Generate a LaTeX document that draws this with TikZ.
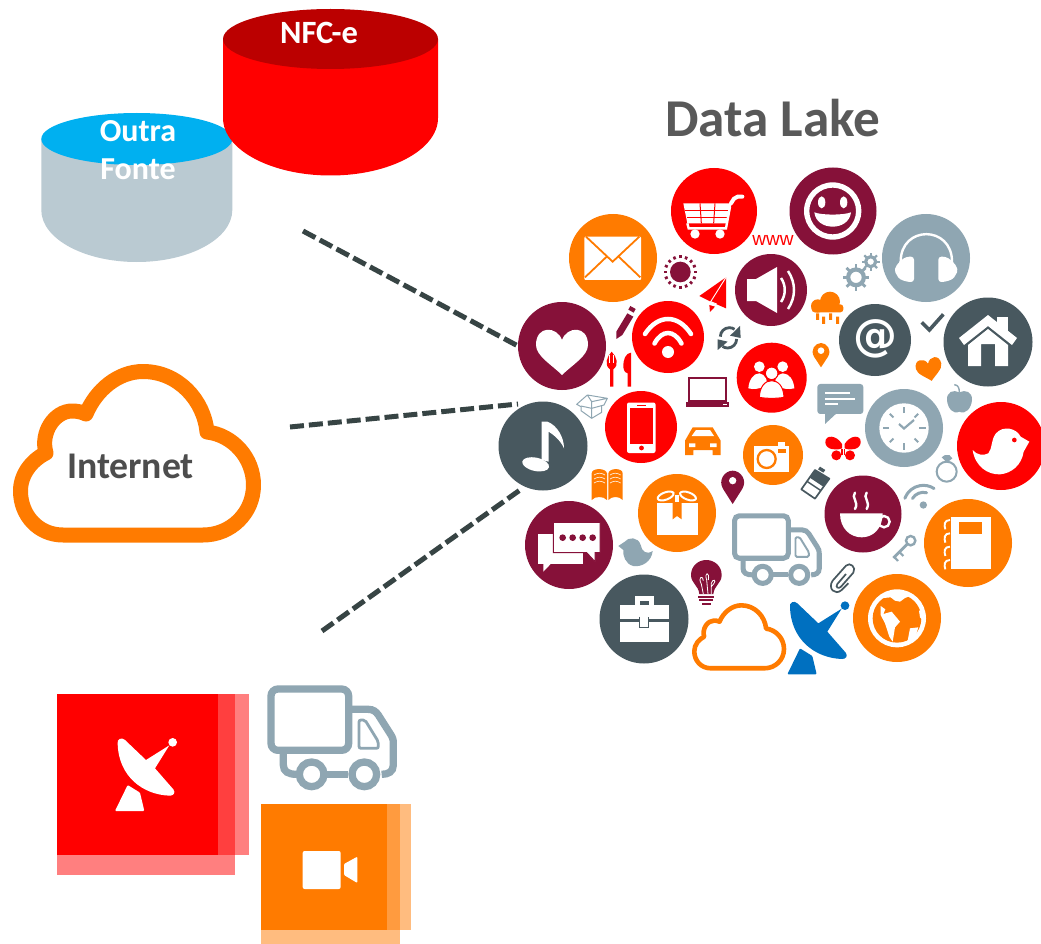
\documentclass[tikz,border=0pt]{standalone}
\usepackage{fontspec}
\usetikzlibrary{calc}
\setmainfont{Carlito}
\newfontfamily\arialish{Liberation Sans}
\newfontfamily\heavyfont{DejaVu Sans}
\definecolor{maroonc}{HTML}{861139}
\definecolor{orangec}{HTML}{FF7B00}
\definecolor{redc}{HTML}{FF0000}
\definecolor{slatec}{HTML}{48585F}
\definecolor{grayc}{HTML}{8FA6B2}
\definecolor{dashc}{HTML}{374444}
\definecolor{cylgray}{HTML}{BACAD2}
\definecolor{cylblue}{HTML}{00B0F0}
\definecolor{cyldark}{HTML}{BB0000}
\definecolor{txtgray}{HTML}{595959}
\definecolor{inetgray}{HTML}{4D4D4D}
\definecolor{dishblue}{HTML}{0070C0}
\tikzset{
  disc/.style={circle,inner sep=0pt,outer sep=0pt,minimum size=#1},
  feed/.style={draw=dashc,line width=5pt,dash pattern=on 14pt off 5pt},
  z1/.style={shift={(500,160)},scale=.33333},
  z2/.style={shift={(770,160)},scale=.33333},
  z3/.style={shift={(490,420)},scale=.33333},
  z4/.style={shift={(740,420)},scale=.33333},
  z5/.style={shift={(40,680)},scale=.33333},
  z9/.style={shift={(735,340)},scale=.33333},
  z10/.style={shift={(850,570)},scale=.33333},
}
\newcommand\heartshape{(0,-6) .. controls (-5,-20) and (-26,-21) .. (-26,-1) .. controls (-26,10) and (-10,19) .. (0,29) .. controls (10,19) and (26,10) .. (26,-1) .. controls (26,-21) and (5,-20) .. (0,-6) -- cycle}
\newcommand\cloudshape{(63,535) .. controls (38,535) and (20.5,515) .. (20.5,491) .. controls (20.5,474) and (32,460) .. (46,453) .. controls (40,432) and (55,411) .. (72,411) .. controls (77,411) and (82,412) .. (86,414) .. controls (96,390) and (118,371.5) .. (143,371.5) .. controls (178,371.5) and (204,400) .. (207,432) .. controls (233,435) and (253.5,458) .. (253.5,485) .. controls (253.5,513) and (231,535) .. (203,535) -- cycle}
\newcommand\dishsym[1]{%
  \fill[#1] (233,190) .. controls (230,178) and (245,170) .. (255,180) -- (318,240) -- (388,196) -- (345,265) -- (400,328) .. controls (408,338) and (400,347) .. (390,347) .. controls (310,345) and (235,290) .. (233,190) -- cycle;
  \fill[#1] (398,187) circle[radius=13];
  \fill[#1,rounded corners=1pt] (263,315) -- (300,338) -- (313,393) -- (225,393) -- cycle;
}
% truck in the coordinates of the big truck's crop; #1 = size factor
\newcommand\trucksym[1]{%
  \draw[grayc,line width=#1*7.3pt,rounded corners=#1*7pt] (693,27) rectangle (926,211);
  \draw[grayc,line width=#1*7.3pt] (926,88) -- (985,88) .. controls (1000,88) and (1008,95) .. (1015,105) -- (1050,160) .. controls (1058,172) and (1060,178) .. (1060,190) -- (1060,255) .. controls (1060,275) and (1045,283) .. (1025,283);
  \draw[grayc,line width=#1*7.3pt] (860,283) -- (925,283);
  \draw[grayc,line width=#1*7.3pt] (730,215) -- (730,255) .. controls (730,275) and (745,283) .. (770,283);
  \draw[grayc,line width=#1*7.3pt,fill=white] (815,283) circle[radius=37];
  \draw[grayc,line width=#1*7.3pt,fill=white] (973,283) circle[radius=37];
  \draw[grayc,line width=#1*2.8pt,rounded corners=#1*2pt] (957,120) -- (975,120) -- (1015,185) -- (1015,205) -- (957,205) -- cycle;
}
\begin{document}
\begin{tikzpicture}[x=1pt,y=-1pt]
\clip (0,0) rectangle (1041,944);
\fill[white] (0,0) rectangle (1041,944);

% ---------- cylinders
\fill[cylgray] (41.3,139) -- (41.3,210) arc[start angle=180,end angle=0,x radius=95.5,y radius=52] -- (232.3,139) -- cycle;
\fill[cylblue] (136.8,139) ellipse[x radius=95.5,y radius=26];
\fill[redc] (223,39) -- (223,118) arc[start angle=180,end angle=0,x radius=107.5,y radius=57.5] -- (438,39) -- cycle;
\fill[cyldark] (330.5,39) ellipse[x radius=107.5,y radius=30];
\node[text=white,font=\bfseries\fontsize{32.5}{34}\selectfont,inner sep=0pt] (nfc) at (319,33) {NFC-e};
\node[text=white,font=\bfseries\fontsize{32}{34}\selectfont,inner sep=0pt] (outra) at (138,131.5) {Outra};
\node[text=white,font=\bfseries\fontsize{32}{34}\selectfont,inner sep=0pt] (fonte) at (138,169.5) {Fonte};

% ---------- cloud
\draw[orangec,line width=15pt,line join=round] \cloudshape;
\node[text=inetgray,font=\bfseries\fontsize{37.7}{40}\selectfont,inner sep=0pt] (internet) at (130.5,466) {Internet};

% ---------- title
\node[text=txtgray,font=\bfseries\fontsize{53.2}{56}\selectfont,inner sep=0pt] (title) at (773,118) {Data Lake};

% ---------- connectors
\coordinate (f1a) at (303,231); \coordinate (f1b) at (518,346);
\coordinate (f2a) at (290,427); \coordinate (f2b) at (518,404);
\coordinate (f3a) at (322,631); \coordinate (f3b) at (520,490);
\draw[feed] (f1a) -- (f1b);
\draw[feed] (f2a) -- (f2b);
\draw[feed] (f3a) -- (f3b);

% ---------- squares
\fill[redc,opacity=.5] (57,694) rectangle (235,875);
\fill[redc,opacity=.5] (57,694) rectangle (249,855);
\fill[redc] (57,694) rectangle (218,855);
\begin{scope}[z5] \dishsym{white} \end{scope}
\fill[orangec,opacity=.5] (261,804) rectangle (400,944);
\fill[orangec,opacity=.5] (261,804) rectangle (411,930);
\fill[orangec] (261,804) rectangle (387,930);
\begin{scope}[z5]
  \fill[white,rounded corners=2pt] (788,513) rectangle (902,627);
  \fill[white,rounded corners=1pt] (912,552) -- (952,530) -- (952,609) -- (912,585) -- cycle;
\end{scope}
\begin{scope}[z5] \trucksym{1} \end{scope}

% ---------- discs
\node[disc=86pt,fill=redc] (cart) at (714,211) {};
\node[disc=87pt,fill=maroonc] (smile) at (833,211) {};
\node[disc=88pt,fill=orangec] (mail) at (613,258) {};
\node[disc=88pt,fill=grayc] (phones) at (926,258) {};
\node[disc=72pt,fill=maroonc] (speaker) at (771,290) {};
\node[disc=88pt,fill=maroonc] (heart) at (562,346) {};
\node[disc=72pt,fill=redc] (wifi) at (668,337) {};
\node[disc=72pt,fill=slatec] (atdisc) at (875,340) {};
\node[disc=89pt,fill=slatec] (home) at (988,342) {};
\node[disc=70pt,fill=redc] (people) at (771.7,377.7) {};
\node[disc=89pt,fill=slatec] (note) at (543,446) {};
\node[disc=72pt,fill=redc] (phone) at (641,427) {};
\node[disc=78pt,fill=grayc] (clock) at (904,428) {};
\node[disc=88pt,fill=redc] (bird) at (1001,446) {};
\node[disc=60pt,fill=orangec] (camera) at (773,455) {};
\node[disc=78pt,fill=orangec] (gift) at (677,513) {};
\node[disc=77pt,fill=maroonc] (cup) at (863,514) {};
\node[disc=88pt,fill=orangec] (notebook) at (968,543) {};
\node[disc=88pt,fill=maroonc] (chat) at (569,545) {};
\node[disc=89pt,fill=slatec] (case) at (644,619) {};
\node[disc=88pt,fill=orangec] (globe) at (897,618) {};

% ---------- cart
\begin{scope}[z1]
  \fill[white] (550,130) -- (695,130) -- (682,190) -- (562,190) -- cycle;
  \draw[redc,line width=1pt] (556,152) -- (690,152) (560,172) -- (686,172);
  \draw[redc,line width=1pt] (600,130) -- (604,190) (645,130) -- (641,190);
  \draw[white,line width=2.4pt] (562,190) -- (566,205) -- (678,205) -- (690,140);
  \draw[white,line width=4pt,line cap=round] (693,130) -- (702,116) .. controls (708,108) and (718,110) .. (727,110);
  \fill[white] (585,222) circle[radius=14] (660,222) circle[radius=14];
\end{scope}
% ---------- smile
\begin{scope}[z2]
  \fill[white,even odd rule] (188,153) circle[radius=86] (188,153) circle[radius=70];
  \fill[white] (155,127) ellipse[x radius=11,y radius=18] (221,127) ellipse[x radius=11,y radius=18];
  \fill[white] (133,157) .. controls (155,166) and (221,166) .. (243,157) .. controls (240,185) and (215,200) .. (188,200) .. controls (161,200) and (136,185) .. (133,157) -- cycle;
\end{scope}
% ---------- mail
\begin{scope}[z1]
  \fill[white,rounded corners=1pt] (253,230) rectangle (423,360);
  \draw[orangec,line width=1.8pt] (258,230) -- (338,305) -- (418,230);
  \draw[orangec,line width=1.8pt] (255,352) -- (320,290) (421,352) -- (356,290);
\end{scope}
% ---------- headphones
\begin{scope}[z2]
  \draw[white,line width=2.4pt] (392,345) -- (392,305) .. controls (392,195) and (546,195) .. (546,305) -- (546,345);
  \fill[white,rounded corners=3pt] (432,290) -- (410,290) .. controls (385,305) and (370,325) .. (380,345) .. controls (390,360) and (410,366) .. (432,366) -- cycle;
  \fill[white,rounded corners=3pt] (505,290) -- (527,290) .. controls (552,305) and (567,325) .. (557,345) .. controls (547,360) and (527,366) .. (505,366) -- cycle;
\end{scope}
% ---------- speaker
\begin{scope}[shift={(771,290)}]
  \fill[white] (-24,-11) -- (-15,-11) -- (6,-23) -- (6,23) -- (-15,11) -- (-24,11) -- cycle;
  \draw[white,line width=2.5pt] (10,-12) .. controls (15,-5) and (15,5) .. (10,12);
  \draw[white,line width=2.5pt] (17,-19) .. controls (25,-7) and (25,7) .. (17,19);
\end{scope}
% ---------- heart
\begin{scope}[shift={(562,346)}] \fill[white] \heartshape; \end{scope}
% ---------- wifi
\begin{scope}[shift={(668,337)}]
  \fill[white] (0,15) circle[radius=6];
  \draw[white,line width=4.5pt,line cap=round] (-23,-3) .. controls (-10,-23) and (10,-23) .. (23,-3);
  \draw[white,line width=4.5pt,line cap=round] (-13.5,6.5) .. controls (-6,-7.5) and (6,-7.5) .. (13.5,6.5);
\end{scope}
% ---------- at sign
\node[text=white,font=\heavyfont\bfseries\fontsize{44}{46}\selectfont,inner sep=0pt] (atsign) at (875,339) {@};
% ---------- home
\begin{scope}[shift={(988,342)}]
  \fill[white] (9,-25) rectangle (20,-10);
  \fill[white] (0,-27) -- (29,-4) -- (24,3) -- (0,-16) -- (-24,3) -- (-29,-4) -- cycle;
  \fill[white] (0,-13) -- (20,3) -- (20,24) -- (7,24) -- (7,2) -- (-7,2) -- (-7,24) -- (-20,24) -- (-20,3) -- cycle;
\end{scope}
% ---------- people
\begin{scope}[z9]
  \fill[white] (73,80) circle[radius=16] (143,80) circle[radius=16];
  \fill[white] (40,145) .. controls (42,120) and (55,100) .. (73,100) .. controls (90,100) and (105,130) .. (90,140) .. controls (75,145) and (55,150) .. (40,145) -- cycle;
  \fill[white] (178,145) .. controls (176,120) and (163,100) .. (143,100) .. controls (126,100) and (111,130) .. (126,140) .. controls (141,145) and (161,150) .. (178,145) -- cycle;
  \draw[white,fill=white,line width=1pt] (110,100) circle[radius=17];
  \draw[redc,line width=1pt] (110,100) circle[radius=19];
  \draw[redc,fill=white,line width=1pt] (73,172) .. controls (74,140) and (90,122) .. (110,122) .. controls (130,122) and (146,140) .. (147,172) .. controls (125,176) and (95,176) .. (73,172) -- cycle;
\end{scope}
% ---------- note
\begin{scope}[z3]
  \fill[white,rotate around={-12:(137,133)}] (137,133) ellipse[x radius=41,y radius=20];
  \fill[white] (155,120) -- (155,5) -- (172,5) .. controls (200,15) and (222,50) .. (222,85) .. controls (212,62) and (192,45) .. (176,35) -- (176,125) -- cycle;
\end{scope}
% ---------- phone
\begin{scope}[shift={(641,427)}]
  \fill[white,rounded corners=2pt] (-14,-24.5) rectangle (14.5,26);
  \fill[redc] (-11,-19) rectangle (12,17);
  \fill[redc] (0.5,21) circle[radius=2.4];
  \fill[redc] (-4,-22.5) rectangle (5,-21);
\end{scope}
% ---------- clock
\begin{scope}[shift={(904,428)}]
  \fill[white] (0,0) circle[radius=24.7];
  \foreach \a in {0,90,180,270}
    \draw[grayc,line width=2pt] (\a:15) -- (\a:21.5);
  \foreach \a in {45,135,225,315}
    \draw[grayc,line width=2pt] (\a:15) -- (\a:20);
  \draw[grayc,line width=2.2pt] (-5,-4) -- (0,0.5) -- (10,-8);
\end{scope}
% ---------- red bird
\begin{scope}[z4]
  \fill[white] (698,90) .. controls (705,140) and (745,165) .. (780,163) .. controls (815,160) and (845,135) .. (851,95) -- (868,65) -- (842,50) .. controls (830,25) and (790,15) .. (768,40) .. controls (752,60) and (758,85) .. (745,100) .. controls (730,108) and (710,105) .. (698,90) -- cycle;
  \fill[redc] (823,60) circle[radius=7];
\end{scope}
% ---------- camera
\begin{scope}[z4]
  \fill[white] (42,78) rectangle (148,155);
  \fill[white] (115,67) rectangle (135,78);
  \fill[orangec] (115,88) rectangle (138,100);
  \draw[orangec,line width=2.3pt] (80,117) circle[radius=27];
\end{scope}
% ---------- gift
\begin{scope}[z3]
  \fill[white] (500,248) rectangle (623,345);
  \fill[orangec] (548,248) -- (575,248) -- (575,298) -- (561,288) -- (548,298) -- cycle;
  \draw[white,line width=2pt,rotate around={20:(527,228)}] (527,228) ellipse[x radius=25,y radius=11];
  \draw[white,line width=2pt,rotate around={-20:(594,228)}] (594,228) ellipse[x radius=25,y radius=11];
  \fill[white] (555,226) rectangle (568,245);
\end{scope}
% ---------- cup
\begin{scope}[z4]
  \draw[white,line width=2.4pt] (432,305) circle[radius=17];
  \fill[white] (300,280) -- (428,280) .. controls (428,325) and (400,352) .. (365,352) .. controls (330,352) and (300,325) .. (300,280) -- cycle;
  \draw[white,line width=2.4pt,line cap=round] (345,218) .. controls (332,232) and (358,245) .. (345,267);
  \draw[white,line width=2.4pt,line cap=round] (380,218) .. controls (367,232) and (393,245) .. (380,267);
\end{scope}
% ---------- notebook
\begin{scope}[z4]
  \fill[white] (632,290) rectangle (752,448);
  \fill[orangec] (657,307) rectangle (726,342);
  \foreach \yy in {300,340,380,420}
    \draw[white,line width=1.9pt] (630,\yy) .. controls (612,\yy) and (612,\yy+15) .. (616,\yy+28);
\end{scope}
% ---------- chat
\begin{scope}[z3]
  \fill[white] (143,342) rectangle (278,432);
  \fill[white] (160,432) -- (160,455) -- (182,432) -- cycle;
  \draw[maroonc,fill=white,line width=1pt] (190,307) -- (330,307) -- (330,398) -- (315,398) -- (315,425) -- (290,398) -- (190,398) -- cycle;
  \fill[maroonc] (218,353) circle[radius=10] (248,353) circle[radius=10] (278,353) circle[radius=10] (308,353) circle[radius=10];
\end{scope}
% ---------- briefcase
\begin{scope}[z3]
  \fill[white] (435,527) rectangle (492,560);
  \fill[slatec] (450,543) rectangle (478,555);
  \fill[white] (389,555) rectangle (537,596);
  \fill[white] (389,605) rectangle (537,665);
  \draw[slatec,fill=white,line width=1pt] (449,590) -- (449,622) -- (476,622) -- (476,590);
\end{scope}
% ---------- globe
\begin{scope}[z10]
  \fill[white] (141,145) circle[radius=87];
  \fill[orangec] (141,145) circle[radius=73];
  \fill[white] (90,85) -- (122,82) -- (135,92) -- (150,95) -- (165,84) -- (190,74) -- (140,68) -- (105,72) -- cycle;
  \fill[white] (92,108) -- (106,118) -- (100,132) -- (125,125) -- (150,155) -- (135,172) -- (128,215) -- (118,200) -- (105,160) -- (92,135) -- cycle;
  \fill[white] (207,122) -- (216,120) -- (222,155) -- (210,142) -- cycle;
  \fill[white] (180,175) -- (205,172) -- (195,205) -- (172,217) -- cycle;
\end{scope}

% ---------- small icons, top left crop
\begin{scope}[z1]
  % sun
  \fill[maroonc] (541,336) circle[radius=31];
  \foreach \a in {0,22.5,...,337.5}
    \draw[maroonc,line width=2.6pt] ($(541,336)+(\a:41)$) -- ($(541,336)+(\a:50)$);
  % plane
  \fill[redc] (678,352) -- (598,408) -- (632,425) -- (678,445) -- cycle;
  \draw[white,line width=.9pt] (678,352) -- (632,425) -- (650,432);
  \fill[redc] (628,435) -- (645,440) -- (630,456) -- cycle;
  % pencil
  \fill[maroonc] (349,537) -- (349,515) -- (382,460) -- (400,470) -- (367,525) -- cycle;
  \fill[maroonc] (391,438) -- (407,447) -- (401,458) -- (385,449) -- cycle;
  % fork
  \fill[redc] (335,575) .. controls (320,590) and (312,615) .. (330,628) -- (330,680) -- (340,680) -- (340,628) .. controls (358,615) and (350,590) .. (335,575) -- cycle;
  \draw[white,line width=.6pt] (329,585) -- (329,610) (341,585) -- (341,610);
  % knife
  \fill[redc] (393,578) .. controls (378,578) and (368,600) .. (370,622) .. controls (372,635) and (378,640) .. (383,640) -- (383,680) -- (393,680) -- cycle;
  % sync
  \draw[slatec,line width=2.8pt] (661,530) arc[start angle=180,end angle=305,radius=27];
  \fill[slatec] (720,498) -- (722,534) -- (690,527) -- cycle;
  \draw[slatec,line width=2.8pt] (710,537) arc[start angle=0,end angle=125,radius=27];
  \fill[slatec] (653,570) -- (653,538) -- (683,545) -- cycle;
  % laptop
  \draw[maroonc,line width=2.3pt] (566,654) rectangle (677,722);
  \fill[maroonc] (558,727) rectangle (688,740);
  \fill[white] (668,732) rectangle (682,735);
  % box
  \draw[grayc,line width=1pt,line join=round] (243,740) -- (243,752) -- (275,775) -- (305,757) -- (305,738) (275,745) -- (275,775) (243,738) -- (275,745) -- (312,735) -- (322,715) -- (262,705) -- (230,733) -- (243,740) (262,705) -- (275,725) -- (322,715) (275,725) -- (275,745);
\end{scope}

% ---------- small icons, top right crop
\begin{scope}[z2]
  % gears
  \draw[grayc,line width=4.2pt] (258,352) circle[radius=23.5];
  \foreach \a in {0,45,...,315}
    \draw[grayc,line width=2.8pt] ($(258,352)+(\a:28)$) -- ($(258,352)+(\a:40)$);
  \draw[grayc,line width=3.2pt] (302,305) circle[radius=15];
  \foreach \a in {0,45,...,315}
    \draw[grayc,line width=2.2pt] ($(302,305)+(\a:18)$) -- ($(302,305)+(\a:27)$);
  % rain cloud
  \fill[orangec] (180,425) circle[radius=30] (143,438) circle[radius=20];
  \fill[orangec,rounded corners=3pt] (125,433) rectangle (220,457);
  \fill[orangec] (138,460) rectangle (147,480) (156,470) rectangle (165,492) (177,460) rectangle (186,480) (198,470) rectangle (207,492);
  % check
  \draw[slatec,line width=3.6pt] (455,487) -- (478,510) -- (520,463);
  % pin
  \fill[orangec] (153,622) -- (132,590) .. controls (120,570) and (135,549) .. (153,549) .. controls (171,549) and (186,570) .. (174,590) -- cycle;
  \fill[white] (153,572) circle[radius=10];
  % heart
  \begin{scope}[shift={(476,620)},rotate=12,scale=1.5]
    \fill[orangec] \heartshape;
  \end{scope}
  % apple
  \fill[grayc] (568,697) .. controls (550,688) and (530,695) .. (531,720) .. controls (533,745) and (550,765) .. (568,755) .. controls (586,765) and (604,745) .. (606,720) .. controls (607,695) and (586,688) .. (568,697) -- cycle;
  \draw[grayc,line width=1.4pt] (553,674) .. controls (565,675) and (568,685) .. (568,697);
  % speech bubble
  \fill[grayc,rounded corners=3pt] (142,672) rectangle (280,762);
  \fill[grayc] (165,755) -- (165,792) -- (205,755) -- cycle;
  \draw[white,line width=1.7pt] (165,700) -- (240,700) (165,716) -- (255,716) (165,732) -- (205,732);
\end{scope}

% ---------- small icons, lower left crop
\begin{scope}[z3]
  % car
  \fill[orangec] (608,22) -- (668,22) -- (692,62) -- (692,90) -- (692,105) -- (668,105) -- (668,90) -- (610,90) -- (610,105) -- (585,105) -- (585,62) -- cycle;
  \fill[white] (618,30) -- (660,30) -- (672,48) -- (605,48) -- cycle;
  \fill[white] (597,70) rectangle (616,81) (660,70) rectangle (680,81);
  % book
  \fill[orangec] (305,240) -- (305,160) .. controls (305,143) and (348,143) .. (351,160) -- (351,240) .. controls (340,228) and (315,228) .. (305,240) -- cycle;
  \fill[orangec] (398,240) -- (398,160) .. controls (398,143) and (358,143) .. (355,160) -- (355,240) .. controls (365,228) and (388,228) .. (398,240) -- cycle;
  \draw[white!80!orangec,line width=.7pt] (312,165) .. controls (322,158) and (335,158) .. (345,165) (312,177) .. controls (322,170) and (335,170) .. (345,177) (312,189) .. controls (322,182) and (335,182) .. (345,189);
  \draw[white!80!orangec,line width=.7pt] (360,165) .. controls (370,158) and (382,158) .. (392,165) (360,177) .. controls (370,170) and (382,170) .. (392,177) (360,189) .. controls (370,182) and (382,182) .. (392,189);
  % maroon pin
  \fill[maroonc] (728,252) -- (700,208) .. controls (682,180) and (705,152) .. (728,152) .. controls (751,152) and (774,180) .. (756,208) -- cycle;
  \fill[white] (728,182) circle[radius=11];
  % small bird
  \fill[grayc] (385,378) -- (403,366) .. controls (415,350) and (445,350) .. (452,375) .. controls (455,395) and (470,405) .. (488,393) .. controls (485,425) and (455,442) .. (430,438) .. controls (405,432) and (398,405) .. (400,390) -- cycle;
  % bulb
  \fill[maroonc] (628,522) .. controls (625,495) and (603,490) .. (603,465) .. controls (603,438) and (625,420) .. (649,420) .. controls (673,420) and (695,438) .. (695,465) .. controls (695,490) and (673,495) .. (670,522) -- cycle;
  \draw[maroonc,line width=1.7pt] (625,530) -- (673,530) (628,541) -- (670,541);
  \draw[maroonc,line width=1.9pt] (636,552) -- (662,552);
  \draw[white,line width=.8pt] (640,522) -- (634,492) .. controls (622,470) and (640,465) .. (640,482) (654,522) -- (650,480) .. controls (642,455) and (660,455) .. (655,480) (664,522) -- (664,490) .. controls (668,475) and (680,480) .. (672,490) -- (664,500);
\end{scope}

% ---------- small icons, lower right crop
\begin{scope}[z4]
  % butterfly
  \fill[redc] (306,72) .. controls (290,45) and (255,42) .. (256,68) .. controls (258,90) and (290,92) .. (306,85) -- cycle;
  \fill[redc] (314,72) .. controls (330,45) and (364,42) .. (362,68) .. controls (360,90) and (328,92) .. (314,85) -- cycle;
  \fill[redc] (289,106) circle[radius=15] (330,106) circle[radius=15];
  \fill[redc] (303,88) rectangle (316,105);
  \draw[white,line width=.7pt] (310,60) -- (310,118);
  % battery
  \draw[slatec,line width=1.7pt,line join=round] (225,150) -- (268,176) -- (225,236) -- (184,208) -- cycle;
  \fill[slatec] (225,150) -- (268,176) -- (250,200) -- (208,172) -- cycle;
  \fill[slatec] (240,140) -- (256,150) -- (250,158) -- (234,148) -- cycle;
  \draw[slatec,line width=1.4pt] (201,184) -- (243,212);
  % ring
  \draw[grayc,line width=2pt] (620,155) circle[radius=30];
  \fill[grayc] (605,112) -- (615,105) -- (628,105) -- (637,115) -- (621,128) -- cycle;
  % gray wifi
  \fill[grayc] (550,255) circle[radius=11];
  \draw[grayc,line width=3pt,line cap=round] (550,255) ++(211:38) arc[start angle=211,end angle=285,radius=38];
  \draw[grayc,line width=3pt,line cap=round] (550,255) ++(200:59) arc[start angle=200,end angle=303,radius=59];
  % key
  \draw[grayc,line width=2.4pt] (512,362) circle[radius=14];
  \draw[grayc,line width=2.8pt] (501,373) -- (460,414);
  \draw[grayc,line width=2.2pt] (478,396) -- (490,408) (463,411) -- (474,423);
  % paper clip
  \draw[slatec,line width=1.7pt] (318,462) -- (292,492) .. controls (285,502) and (296,508) .. (303,500) -- (340,458) .. controls (350,442) and (330,425) .. (318,437) -- (278,482) .. controls (262,505) and (285,528) .. (305,510) -- (325,490);
\end{scope}
\begin{scope}[z4,shift={(-83,370)}] \dishsym{dishblue} \end{scope}

% ---------- small truck and small cloud
\begin{scope}[shift={(732,513)},scale=.2308,shift={(-682,-15)}] \trucksym{.69} \end{scope}
\begin{scope}[shift={(686.4,462.3)},scale=.385]
  \draw[orangec,line width=4.6pt,line join=round] \cloudshape;
\end{scope}
\node[text=redc,font=\arialish\fontsize{19}{20}\selectfont,inner sep=0pt] (www) at (773,240.5) {www};
\end{tikzpicture}
\end{document}
